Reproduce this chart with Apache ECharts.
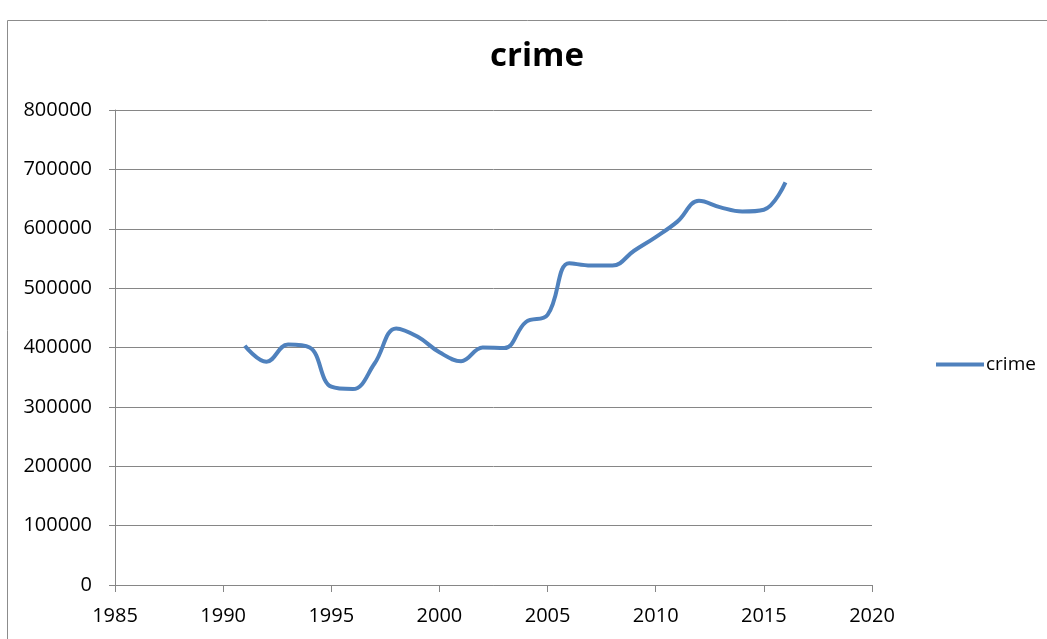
<!DOCTYPE html>
<html><head><meta charset="utf-8">
<script src="https://cdn.jsdelivr.net/npm/echarts@6/dist/echarts.min.js"></script>
<style>html,body{margin:0;padding:0;background:#fff}#c{width:1047px;height:639px}</style>
</head><body><div id="c"></div>
<script>
var years = [1991,1992,1993,1994,1995,1996,1997,1998,1999,2000,2001,2002,2003,2004,2005,2006,2007,2008,2009,2010,2011,2012,2013,2014,2015,2016];
var crime = [403000,376000,405000,400000,334000,330000,373000,432000,418000,392000,377000,400000,399000,443000,455000,542000,538000,538000,563000,586000,612000,647000,636000,629000,632000,678000];
var xTicks = {min:1985, max:2020, step:5};
var yTicks = {min:0, max:800000, step:100000};
var data = years.map(function(y,i){return [y, crime[i]];});
var chart = echarts.init(document.getElementById('c'));
var font = 'Open Sans';
chart.setOption({
  animation:false,
  graphic:[{type:'rect',shape:{x:7.5,y:20.5,width:1100,height:700},style:{fill:'none',stroke:'#8c8c8c',lineWidth:1}}],
  title:{text:'crime',left:485,top:35,textStyle:{fontFamily:font,fontWeight:'bold',fontSize:33,color:'#000'}},
  legend:{left:931,top:350,icon:'rect',itemWidth:48,itemHeight:4,itemGap:0,
    textStyle:{fontFamily:font,fontSize:19,color:'#000',padding:[0,0,0,-3]},
    data:[{name:'crime',itemStyle:{color:'#4F81BD'}}]},
  grid:{left:115,right:175,top:110,bottom:54,containLabel:false},
  xAxis:{type:'value',min:xTicks.min,max:xTicks.max,interval:xTicks.step,
    axisLine:{show:true,lineStyle:{color:'#868686'}},
    axisTick:{show:true,length:7,lineStyle:{color:'#868686'}},
    splitLine:{show:false},
    axisLabel:{fontFamily:font,fontSize:20,color:'#000',margin:21,formatter:function(v){return String(v);}}},
  yAxis:{type:'value',min:yTicks.min,max:yTicks.max,interval:yTicks.step,
    axisLine:{show:true,lineStyle:{color:'#868686'}},
    axisTick:{show:true,length:6,lineStyle:{color:'#868686'}},
    splitLine:{show:true,lineStyle:{color:'#868686'}},
    axisLabel:{fontFamily:font,fontSize:20,color:'#000',margin:23,formatter:function(v){return String(v);}}},
  series:[{name:'crime',type:'line',data:data,smooth:0.4,showSymbol:false,
    lineStyle:{color:'#4F81BD',width:4},itemStyle:{color:'#4F81BD'}}]
});
</script></body></html>
